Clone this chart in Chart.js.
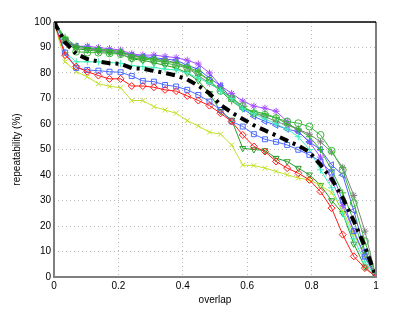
<!DOCTYPE html>
<html>
<head>
<meta charset="utf-8">
<script src="https://cdn.jsdelivr.net/npm/chart.js@4"></script>
<style>
  html, body { margin: 0; padding: 0; background: #fff; }
  #wrap { width: 415px; height: 313px; }
</style>
</head>
<body>
<div id="wrap"><canvas id="c" width="415" height="313"></canvas></div>
<script>
// overlap values: 30 points, step 1/29
const overlap = [0, 0.0345, 0.069, 0.1034, 0.1379, 0.1724, 0.2069, 0.2414, 0.2759, 0.3103,
  0.3448, 0.3793, 0.4138, 0.4483, 0.4828, 0.5172, 0.5517, 0.5862, 0.6207, 0.6552,
  0.6897, 0.7241, 0.7586, 0.7931, 0.8276, 0.8621, 0.8966, 0.931, 0.9655, 1];

const xTicks = [0, 0.2, 0.4, 0.6, 0.8, 1];
const yTicks = [0, 10, 20, 30, 40, 50, 60, 70, 80, 90, 100];

const avgLine    = [100, 92, 87.5, 85.5, 84.5, 83.8, 83.6, 81.9, 81.7, 80.8, 80, 79, 77.5, 75, 72, 67.5, 64.5, 62, 59.5, 57.5, 55.5, 53.5, 51.5, 49, 44, 38.5, 31, 22, 12, 0];
const redDiamond = [100, 87, 82.5, 80.5, 79, 77.7, 77.7, 74.9, 74.9, 74.4, 73.4, 72.9, 71, 69.2, 67.2, 64.2, 61, 55.7, 51.2, 49.2, 45.3, 42.7, 40.7, 38.1, 33.5, 27, 16.6, 8.1, 3.5, 0];
const blueSquare = [100, 88, 82, 81.2, 80.9, 80.5, 80.3, 78.8, 76.9, 76.6, 75.3, 74.7, 73.4, 71.4, 68.8, 65.5, 61, 59, 56, 54, 53, 51.8, 49.9, 47.9, 45.3, 41, 30, 18, 8, 0];
const yellowX    = [100, 84.4, 80.5, 78.5, 75.8, 74.8, 74.2, 69.2, 69.2, 66.8, 65.5, 64.2, 61.3, 59.2, 56.8, 56, 51.8, 43.9, 43.7, 42.7, 41.4, 40.1, 38.8, 38.1, 36, 33, 26, 17, 8, 0];
const cyanPlus   = [100, 88, 84.4, 84.4, 84.4, 84.1, 83.8, 82.9, 82.5, 82.2, 81.5, 81.2, 80, 78, 76, 73, 70, 66, 64, 62, 60, 58, 55, 50, 42, 35, 25, 15, 6, 0];
const greenCircle = [100, 93, 88.4, 88, 88, 87.7, 87.4, 85.8, 85.5, 85, 84, 83, 82, 80, 77, 73, 70, 67, 64.2, 63.6, 62.3, 61, 60.3, 59, 55.7, 49.5, 42, 29, 14, 0];
const greenTri   = [100, 93, 89.5, 89, 88.5, 88, 87.5, 85.5, 85, 84, 83, 82, 80, 77, 72, 65, 61.6, 50.5, 50, 49.6, 46.6, 45.3, 42.7, 40.1, 36, 30, 25, 13, 4, 0];
const greenPlus  = [100, 94, 90.5, 90, 89.5, 89, 88.5, 87, 86, 85.5, 84.5, 84, 82.5, 80.5, 77, 73, 69, 66, 65, 64, 62.5, 60, 58, 55, 50, 42, 33, 22, 9, 0];
const purpleStar = [100, 93, 90.5, 90.5, 90, 89.5, 89, 87.5, 87, 87, 86.5, 86, 85, 83.5, 80, 75, 72, 69, 67, 66.2, 65, 61, 57, 53, 47, 38, 28, 18, 8, 0];
const grayStar   = [100, 93, 90, 89.5, 89, 88.5, 88, 86.5, 86, 85.5, 85, 84, 82, 79, 76, 73.4, 70.5, 66.8, 64.2, 62.9, 61, 59.5, 58, 56, 53, 49, 43, 32, 18, 0];
const blueTri    = [100, 92, 90.5, 90, 89, 88.5, 88, 87, 86.5, 86, 85.5, 85, 83, 81.5, 78, 75, 70, 66, 63, 61, 59.5, 58, 57, 53, 50, 44, 40, 26, 10, 0];

function pts(arr) {
    return arr.map((v, i) => ({ x: overlap[i], y: v }));
}

function series(data, color, style, rot) {
    return {
        data: pts(data),
        borderColor: color,
        backgroundColor: 'rgba(0,0,0,0)',
        pointBorderColor: color,
        borderWidth: 1,
        pointStyle: style,
        rotation: rot || 0,
        pointRadius: 3.5,
        pointBorderWidth: 1,
        tension: 0,
        order: 2
    };
}

// kader rond het plotgebied (matlab stijl)
const boxPlugin = {
    id: 'box',
    afterDraw(chart) {
        const a = chart.chartArea;
        const ctx = chart.ctx;
        ctx.save();
        ctx.strokeStyle = '#7f7f7f';
        ctx.lineWidth = 2;
        ctx.beginPath();
        ctx.moveTo(a.left, a.top);
        ctx.lineTo(a.left, a.bottom);
        ctx.lineTo(a.right, a.bottom);
        ctx.lineTo(a.right, a.top);
        ctx.stroke();
        ctx.strokeStyle = '#000';
        ctx.lineWidth = 1.5;
        ctx.beginPath();
        ctx.moveTo(a.left, a.top);
        ctx.lineTo(a.right, a.top);
        ctx.stroke();
        ctx.restore();
    }
};

const ctx = document.getElementById('c').getContext('2d');
new Chart(ctx, {
    type: 'line',
    data: {
        datasets: [
            {
                data: pts(avgLine),
                borderColor: '#000',
                borderWidth: 4,
                borderDash: [9, 5, 3, 5],
                pointRadius: 0,
                fill: false,
                tension: 0,
                order: 0
            },
            series(redDiamond, '#ff1a1a', 'rectRot'),
            series(blueSquare, '#4d6bff', 'rect'),
            series(yellowX, '#c2e02e', 'crossRot'),
            series(cyanPlus, '#3ff0b8', 'cross'),
            series(greenCircle, '#3cb83c', 'circle'),
            series(greenTri, '#2a9e2a', 'triangle', 180),
            series(greenPlus, '#33b533', 'cross'),
            series(grayStar, '#808080', 'star'),
            series(blueTri, '#4a5cff', 'triangle', 270),
            series(purpleStar, '#a24dff', 'star')
        ]
    },
    options: {
        responsive: false,
        animation: false,
        layout: { padding: { top: 22, right: 39, left: 11, bottom: 7 } },
        plugins: {
            legend: { display: false },
            tooltip: { enabled: false }
        },
        scales: {
            x: {
                type: 'linear',
                min: 0,
                max: 1,
                afterBuildTicks: s => { s.ticks = xTicks.map(v => ({ value: v })); },
                afterFit: s => { s.height = 29; },
                grid: { color: '#b8b8b8', drawTicks: false, tickLength: 0 },
                border: { display: false, dash: [1, 3] },
                ticks: {
                    color: '#000',
                    padding: 3,
                    maxRotation: 0,
                    font: { family: 'Liberation Sans', size: 10 },
                    callback: v => String(v)
                },
                title: {
                    display: true,
                    text: 'overlap',
                    color: '#000',
                    padding: { top: 1, bottom: 0 },
                    font: { family: 'Liberation Sans', size: 10 }
                }
            },
            y: {
                min: 0,
                max: 100,
                afterBuildTicks: s => { s.ticks = yTicks.map(v => ({ value: v })); },
                afterFit: s => { s.width = 43; },
                grid: { color: '#b8b8b8', drawTicks: false, tickLength: 0 },
                border: { display: false, dash: [1, 3] },
                ticks: {
                    color: '#000',
                    padding: 3,
                    font: { family: 'Liberation Sans', size: 10 }
                },
                title: {
                    display: true,
                    text: 'repeatability (%)',
                    color: '#000',
                    padding: { top: 0, bottom: 4 },
                    font: { family: 'Liberation Sans', size: 10 }
                }
            }
        }
    },
    plugins: [boxPlugin]
});
</script>
</body>
</html>
